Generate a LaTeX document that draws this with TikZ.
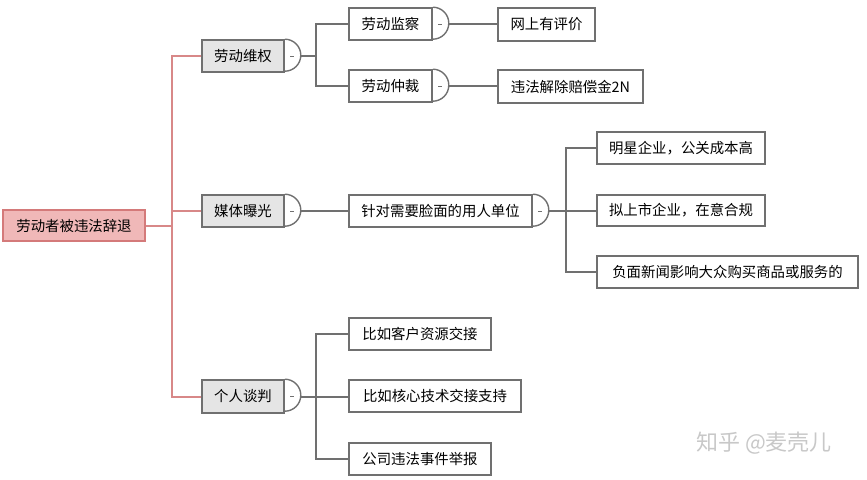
\documentclass[tikz,border=0pt]{standalone}
\usepackage{fontspec}
\setmainfont{Noto Sans CJK SC}
\usetikzlibrary{calc}
\definecolor{rootfill}{RGB}{240,184,184}
\definecolor{rootline}{RGB}{212,122,122}
\definecolor{redlink}{RGB}{216,136,136}
\definecolor{grayline}{RGB}{112,112,112}
\definecolor{lonefill}{RGB}{229,229,229}
\definecolor{wmark}{RGB}{200,200,200}
\tikzset{
  base/.style={draw=grayline, line width=1.6pt, minimum height=32pt, inner sep=0pt, font=\fontsize{14.4pt}{16pt}\selectfont, text=black},
  rootbox/.style={base, draw=rootline, fill=rootfill},
  lonebox/.style={base, fill=lonefill},
  ltwobox/.style={base, fill=white},
  ind/.style={draw=grayline, line width=1.4pt},
  glink/.style={draw=grayline, line width=2pt},
  rlink/.style={draw=redlink, line width=2pt},
}
\newcommand{\collapser}[1]{%
  \draw[ind] (#1.north east) arc[start angle=90, end angle=-90, radius=16pt];
  \draw[draw=grayline, line width=1pt] ($(#1.east)+(5.5,0)$) -- ($(#1.east)+(9.5,0)$);
  \coordinate (#1x) at ($(#1.east)+(16,0)$);
}
\begin{document}
\begin{tikzpicture}[x=1pt,y=-1pt]
\useasboundingbox (0,0) rectangle (867,479);
% root
\node[rootbox, minimum width=142pt, minimum height=31pt] (root) at (74,225.5) {劳动者被违法辞退};
% level 1
\node[lonebox, minimum width=82pt] (wq) at (243,56) {劳动维权};
\node[lonebox, minimum width=82pt] (mt) at (243,211) {媒体曝光};
\node[lonebox, minimum width=82pt, minimum height=33pt] (gr) at (243,396.5) {个人谈判};
% level 2
\node[ltwobox, minimum width=83pt] (jc) at (390.5,24) {劳动监察};
\node[ltwobox, minimum width=83pt] (zc) at (390.5,86) {劳动仲裁};
\node[ltwobox, minimum width=97pt, minimum height=33pt] (pj) at (546.5,24.5) {网上有评价};
\node[ltwobox, minimum width=145pt, minimum height=33pt] (pc) at (570.5,86.5) {违法解除赔偿金2N};
\node[ltwobox, minimum width=183pt] (lm) at (440.5,211) {针对需要脸面的用人单位};
\node[ltwobox, minimum width=168pt] (mx) at (681,148) {明星企业，公关成本高};
\node[ltwobox, minimum width=168pt, minimum height=31pt] (ss) at (681,210.5) {拟上市企业，在意合规};
\node[ltwobox, minimum width=261pt] (fm) at (727.5,272) {负面新闻影响大众购买商品或服务的};
\node[ltwobox, minimum width=142pt] (kh) at (420,334) {比如客户资源交接};
\node[ltwobox, minimum width=172pt] (hx) at (435,396) {比如核心技术交接支持};
\node[ltwobox, minimum width=142pt] (jb) at (420,459) {公司违法事件举报};
% collapse indicators
\collapser{wq}
\collapser{mt}
\collapser{gr}
\collapser{jc}
\collapser{zc}
\collapser{lm}
% red links
\coordinate (rj) at (172,225.5);
\draw[rlink] (root.east) -- (rj);
\draw[rlink] (rj) |- (wq.west);
\draw[rlink] (rj) |- (mt.west);
\draw[rlink] (rj) |- (gr.west);
% gray links
\coordinate (wqj) at (316,56);
\draw[glink] (wqx) -- (wqj);
\draw[glink] (wqj) |- (jc.west);
\draw[glink] (wqj) |- (zc.west);
\draw[glink] (jcx) -- (pj.west |- jcx);
\draw[glink] (zcx) -- (pc.west |- zcx);
\draw[glink] (mtx) -- (lm.west);
\coordinate (lmj) at (566,211);
\draw[glink] (lmx) -- (lmj);
\draw[glink] (lmj) |- (mx.west);
\draw[glink] (lmj) -- (ss.west |- lmj);
\draw[glink] (lmj) |- (fm.west);
\coordinate (grj) at (316,396.5);
\draw[glink] (grx) -- (grj);
\draw[glink] (grj) |- (kh.west);
\draw[glink] (grj) -- (hx.west |- grj);
\draw[glink] (grj) |- (jb.west);
% watermark
\node[text=wmark, font=\fontsize{22pt}{24pt}\selectfont, inner sep=0pt] (wm) at (764,443) {知乎 @麦壳儿};
\end{tikzpicture}
\end{document}
